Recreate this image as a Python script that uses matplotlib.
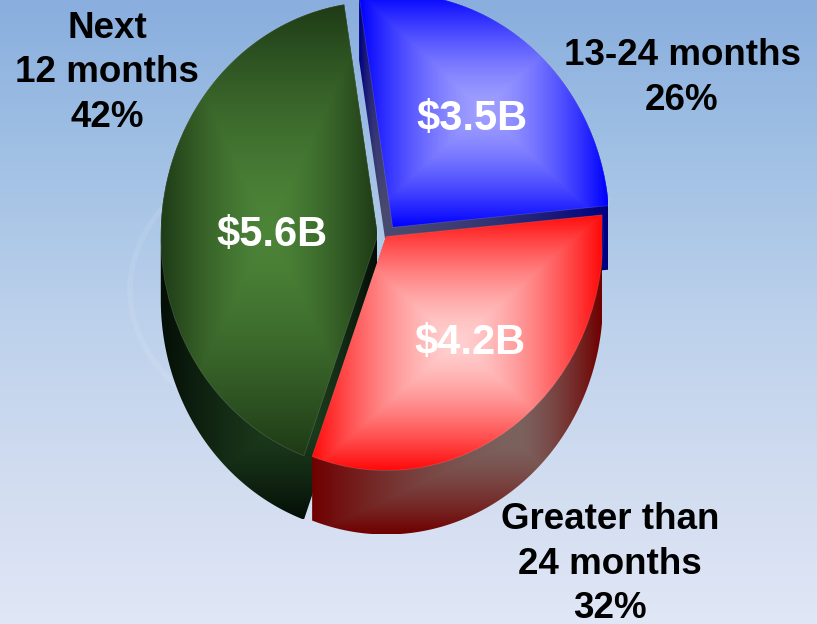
import numpy as np
import matplotlib
matplotlib.use('Agg')
import matplotlib.pyplot as plt
from matplotlib.patches import Polygon, Arc

plt.rcParams['font.family'] = ['Liberation Sans', 'DejaVu Sans']

shares = [26, 32, 42]
values = ['$3.5B', '$4.2B', '$5.6B']
names = ['13-24 months\n26%', 'Greater than\n24 months\n32%', 'Next\n12 months\n42%']
explode = [0.05, 0, 0.038]

W, H = 817, 624
cx, cy = 386, 236.5
rx, ry = 217, 234
depth = 64


def to_data(x, y):
    return (x - cx) / rx, (cy - y) / ry


def to_px(u, v):
    return cx + u * rx, cy - v * ry


def hull(points):
    pts = sorted(set(map(tuple, points)))

    def half(seq):
        out = []
        for p in seq:
            while len(out) > 1 and ((out[-1][0] - out[-2][0]) * (p[1] - out[-2][1])
                                    - (out[-1][1] - out[-2][1]) * (p[0] - out[-2][0])) <= 0:
                out.pop()
            out.append(p)
        return out[:-1]
    return half(pts) + half(pts[::-1])


def wedge_points(w):
    t = np.radians(np.linspace(w.theta1, w.theta2, 300))
    xs = w.center[0] + w.r * np.cos(t)
    ys = w.center[1] + w.r * np.sin(t)
    xs = np.append(xs, w.center[0])
    ys = np.append(ys, w.center[1])
    return xs, ys


def gradient(box, mid, c_mid, c_edge, clip, z):
    x0, x1, y0, y1 = box
    xx, yy = np.meshgrid(np.arange(x0, x1 + 1), np.arange(y0, y1 + 1))
    tx = np.where(xx < mid[0], (mid[0] - xx) / max(mid[0] - x0, 1), (xx - mid[0]) / max(x1 - mid[0], 1))
    ty = np.where(yy < mid[1], (mid[1] - yy) / max(mid[1] - y0, 1), (yy - mid[1]) / max(y1 - mid[1], 1))
    t = (np.clip(np.maximum(tx, ty), 0, 1) ** 1.5)[..., None]
    rgb = (np.array(c_mid) * (1 - t) + np.array(c_edge) * t) / 255
    left, top = to_data(x0, y0)
    right, bottom = to_data(x1, y1)
    im = ax.imshow(rgb, extent=(left, right, bottom, top), aspect='auto', origin='upper', zorder=z,
                   interpolation='bilinear')
    im.set_clip_path(clip)


fig = plt.figure(figsize=(W / 100, H / 100), dpi=100)
ax = fig.add_axes([0, 0, 1, 1])

# background
stops_y = [0, 150, 330, 500, 624]
stops_r = [137, 160, 190, 212, 224]
stops_g = [174, 192, 210, 222, 231]
stops_b = [222, 228, 236, 241, 246]
ys = np.arange(H)
bg = np.stack([np.interp(ys, stops_y, stops_r), np.interp(ys, stops_y, stops_g),
               np.interp(ys, stops_y, stops_b)], axis=1)[:, None, :] / 255
l, t_ = to_data(0, 0)
r, b = to_data(W, H)
ax.imshow(bg, extent=(l, r, b, t_), aspect='auto', zorder=0)
ax.add_patch(Arc(to_data(330, 290), 400 / rx, 300 / ry, angle=0, theta1=110, theta2=260,
                 color='white', alpha=0.09, lw=4, zorder=0.5))

wedges, _ = ax.pie(shares, explode=explode, startangle=98.9, counterclock=False, radius=1,
                   wedgeprops={'facecolor': 'none', 'edgecolor': 'none'})

top_mid = [(160, 160, 255), (255, 208, 208), (76, 132, 56)]
top_edge = [(0, 0, 255), (255, 10, 10), (30, 58, 22)]
side_mid = [(74, 74, 112), (124, 98, 94), (30, 62, 30)]
side_edge = [(0, 0, 128), (112, 0, 0), (4, 14, 6)]
side_centres = [(385, 230), (517, 440), (300, 410)]
order = [0, 2, 1]

z = 2
for i in order:
    w = wedges[i]
    xs, ys_ = wedge_points(w)
    px, py = to_px(xs, ys_)
    shift = depth / ry
    pts = np.column_stack([np.r_[xs, xs], np.r_[ys_, ys_ - shift]])
    side = Polygon(hull(pts), closed=True, transform=ax.transData)
    box = (int(px.min()), int(px.max()), int(py.min()), int(py.max()))
    gradient((box[0], box[1], box[2], box[3] + depth), side_centres[i], side_mid[i], side_edge[i], side, z)
    z += 1
    w.set_zorder(z + 0.5)
    w.set_edgecolor((1, 1, 1, 0.15))
    w.set_linewidth(0.6)
    mid = ((box[0] + box[1]) / 2, (box[2] + box[3]) / 2)
    gradient(box, mid, top_mid[i], top_edge[i], w, z)
    z += 1

ax.set_xlim(l, r)
ax.set_ylim(b, t_)
ax.set_aspect('auto')
ax.axis('off')

value_pos = [(472, 119), (470, 343), (272, 235)]
for v, (x, y) in zip(values, value_pos):
    u, vv = to_data(x, y)
    ax.text(u, vv, v.replace('$', r'\$'), color='white', fontsize=30, fontweight='bold',
            ha='center', va='center', zorder=20)

name_pos = [(682, 78), (610, 564), (107, 73)]
for n, (x, y) in zip(names, name_pos):
    u, vv = to_data(x, y)
    ax.text(u, vv, n, color='black', fontsize=26.5, fontweight='bold', ha='center', va='center',
            linespacing=1.34, zorder=20, clip_on=False)

fig.savefig('out.png', dpi=100)
